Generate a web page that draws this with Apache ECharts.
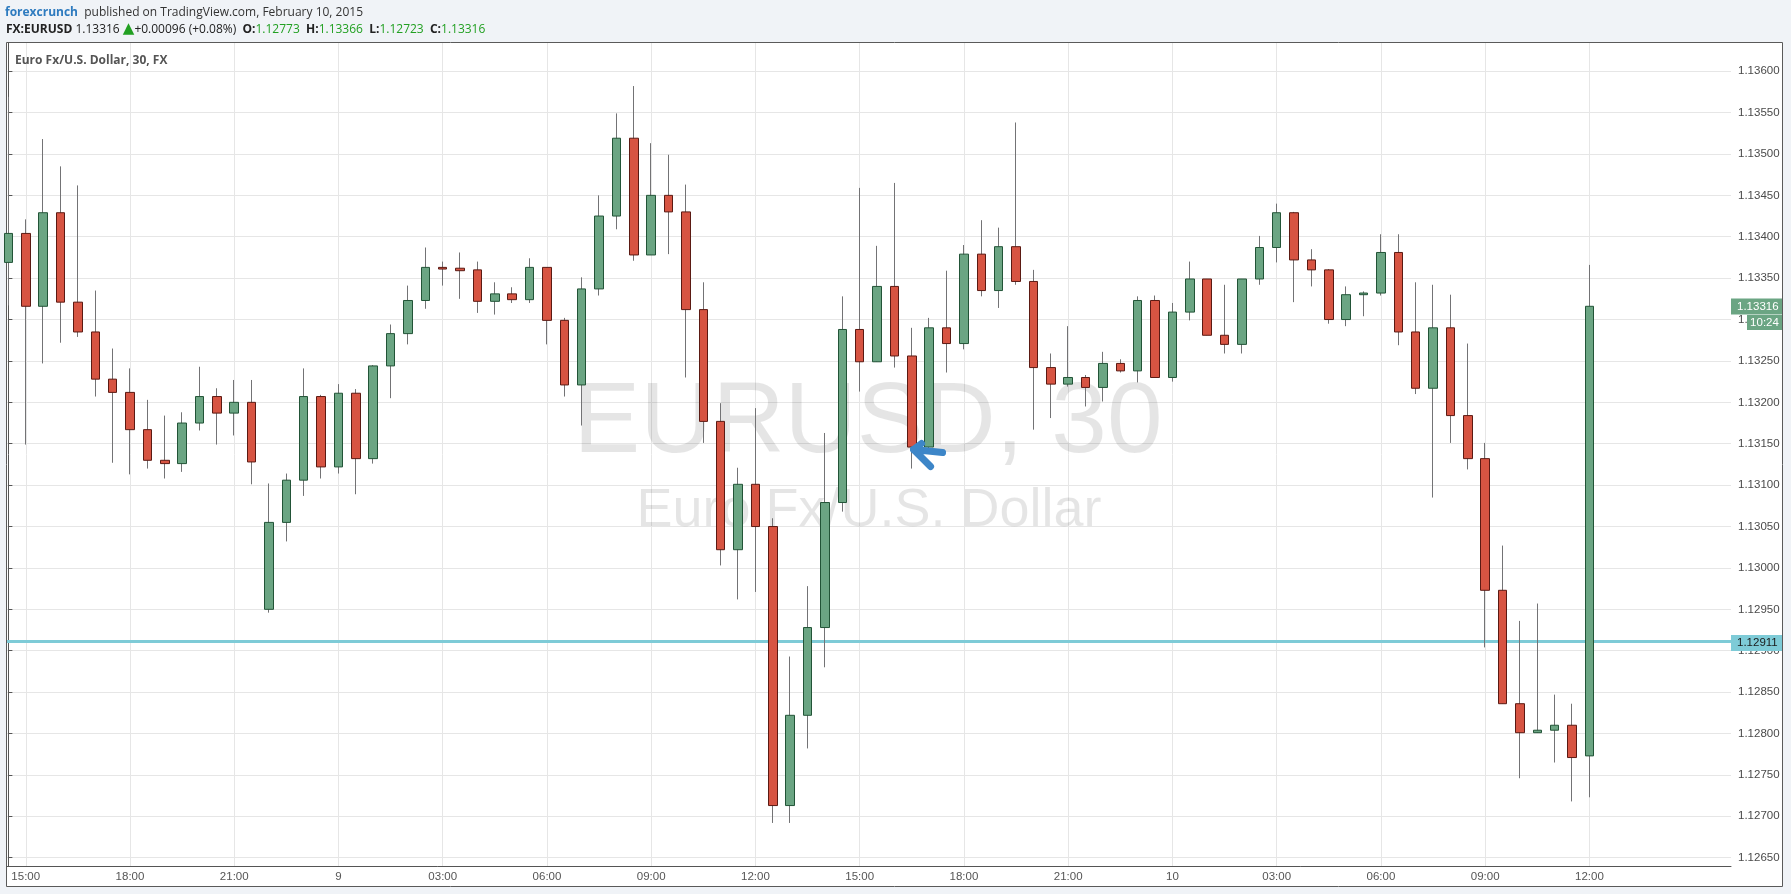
<!DOCTYPE html>
<html>
<head>
<meta charset="utf-8">
<script src="https://cdn.jsdelivr.net/npm/echarts@6/dist/echarts.min.js"></script>
<style>
html,body{margin:0;padding:0;background:#f0f3f7;}
#chart{width:1791px;height:894px;}
</style>
</head>
<body>
<div id="chart"></div>
<script>
// ---- data (30-minute EURUSD candles, index 0 = 14:30) ----
const opens = [
1.13369,1.13404,1.13316,1.13429,1.13321,1.13285,1.13228,1.13212,1.13167,1.13130,
1.13126,1.13175,1.13207,1.13187,1.13200,1.12950,1.13055,1.13106,1.13207,1.13122,
1.13211,1.13132,1.13244,1.13283,1.13323,1.13363,1.13362,1.13360,1.13322,1.13331,
1.13324,1.13363,1.13299,1.13221,1.13337,1.13425,1.13519,1.13378,1.13450,1.13430,
1.13312,1.13177,1.13022,1.13101,1.13050,1.12713,1.12822,1.12928,1.13079,1.13288,
1.13249,1.13340,1.13256,1.13146,1.13290,1.13271,1.13379,1.13335,1.13388,1.13346,
1.13242,1.13222,1.13230,1.13218,1.13247,1.13238,1.13323,1.13230,1.13309,1.13349,
1.13281,1.13270,1.13349,1.13387,1.13429,1.13372,1.13360,1.13300,1.13330,1.13332,
1.13381,1.13285,1.13217,1.13290,1.13184,1.13132,1.12973,1.12836,1.12801,1.12804,
1.12810,1.12773];
const closes = [
1.13404,1.13316,1.13429,1.13321,1.13285,1.13228,1.13212,1.13167,1.13130,1.13126,
1.13175,1.13207,1.13187,1.13200,1.13128,1.13055,1.13106,1.13207,1.13122,1.13211,
1.13132,1.13244,1.13283,1.13323,1.13363,1.13361,1.13359,1.13322,1.13331,1.13324,
1.13363,1.13299,1.13221,1.13337,1.13425,1.13519,1.13378,1.13450,1.13430,1.13312,
1.13177,1.13022,1.13101,1.13050,1.12713,1.12822,1.12928,1.13079,1.13288,1.13249,
1.13340,1.13256,1.13146,1.13290,1.13271,1.13379,1.13335,1.13388,1.13346,1.13242,
1.13222,1.13230,1.13218,1.13247,1.13238,1.13323,1.13230,1.13309,1.13349,1.13281,
1.13270,1.13349,1.13387,1.13429,1.13372,1.13360,1.13300,1.13330,1.13332,1.13381,
1.13285,1.13217,1.13290,1.13184,1.13132,1.12973,1.12836,1.12801,1.12804,1.12810,
1.12771,1.13316];
const lows = [
1.13317,1.13149,1.13247,1.13272,1.13279,1.13207,1.13127,1.13113,1.13120,1.13108,
1.13116,1.13166,1.13149,1.13160,1.13101,1.12946,1.13032,1.13087,1.13108,1.13114,
1.13089,1.13126,1.13205,1.13270,1.13313,1.13341,1.13325,1.13308,1.13306,1.13320,
1.13320,1.13270,1.13207,1.13172,1.13329,1.13409,1.13371,1.13378,1.13379,1.13230,
1.13151,1.13003,1.12962,1.12971,1.12692,1.12692,1.12782,1.12880,1.13068,1.13213,
1.13249,1.13242,1.13120,1.13138,1.13236,1.13264,1.13328,1.13314,1.13342,1.13167,
1.13181,1.13219,1.13195,1.13201,1.13236,1.13224,1.13230,1.13225,1.13299,1.13281,
1.13259,1.13259,1.13342,1.13369,1.13321,1.13340,1.13295,1.13292,1.13304,1.13329,
1.13269,1.13210,1.13085,1.13151,1.13119,1.12904,1.12836,1.12746,1.12801,1.12765,
1.12718,1.12723];
const highs = [
1.13569,1.13421,1.13518,1.13485,1.13462,1.13335,1.13265,1.13241,1.13203,1.13184,
1.13188,1.13243,1.13217,1.13227,1.13227,1.13102,1.13114,1.13241,1.13209,1.13222,
1.13216,1.13245,1.13294,1.13341,1.13387,1.13370,1.13381,1.13370,1.13345,1.13339,
1.13374,1.13363,1.13302,1.13351,1.13450,1.13549,1.13582,1.13513,1.13499,1.13463,
1.13345,1.13199,1.13121,1.13193,1.13060,1.12893,1.12978,1.13163,1.13328,1.13459,
1.13389,1.13465,1.13290,1.13302,1.13359,1.13390,1.13420,1.13411,1.13538,1.13360,
1.13259,1.13292,1.13233,1.13261,1.13252,1.13328,1.13329,1.13320,1.13370,1.13349,
1.13342,1.13349,1.13401,1.13440,1.13430,1.13385,1.13361,1.13340,1.13334,1.13403,
1.13403,1.13345,1.13342,1.13330,1.13271,1.13151,1.13027,1.12936,1.12957,1.12847,
1.12836,1.13366];
const timeTickIdx = [1,7,13,19,25,31,37,43,49,55,61,67,73,79,85,91];
const timeLabels = ['15:00','18:00','21:00','9','03:00','06:00','09:00','12:00',
                    '15:00','18:00','21:00','10','03:00','06:00','09:00','12:00'];
const priceTicks = [1.12650,1.12700,1.12750,1.12800,1.12850,1.12900,1.12950,1.13000,
                    1.13050,1.13100,1.13150,1.13200,1.13250,1.13300,1.13350,1.13400,
                    1.13450,1.13500,1.13550,1.13600];
const refLevel = 1.12911;
const countdown = '10:24';
const changeText = '+0.00096 (+0.08%)';
const arrowTarget = [52.1, 1.13143];

// ---- build ----
const last = opens.length - 1;
const wickData = opens.map((o, i) => [i, o, closes[i], lows[i], highs[i]]);
const bodyData = opens.map((o, i) => [i, o, closes[i], Math.min(o, closes[i]), Math.max(o, closes[i])]);
const fmt = v => v.toFixed(5);
const axisFont = 'Liberation Sans, Arial, sans-serif';

const chart = echarts.init(document.getElementById('chart'), null, {renderer: 'canvas'});
chart.setOption({
  animation: false,
  backgroundColor: 'transparent',
  grid: {left: 7, right: 60, top: 43, bottom: 28, outerBoundsMode: 'none'},
  xAxis: {
    type: 'value', min: -0.08, max: 99.15,
    axisLine: {show: true, onZero: false, lineStyle: {color: '#555', width: 1}},
    axisTick: {show: false, customValues: timeTickIdx},
    axisLabel: {
      customValues: timeTickIdx,
      formatter: v => timeLabels[timeTickIdx.indexOf(Math.round(v))],
      color: '#555', fontSize: 11.5, fontFamily: axisFont, margin: 5
    },
    splitLine: {show: true, lineStyle: {color: '#e6e6e6', width: 1}}
  },
  yAxis: {
    type: 'value', position: 'right', min: 1.1264, max: 1.13634,
    axisLine: {show: true, lineStyle: {color: '#555', width: 1}},
    axisTick: {show: true, inside: false, length: 4, customValues: priceTicks, lineStyle: {color: '#555'}},
    axisLabel: {customValues: priceTicks, formatter: fmt, color: '#4a4a4a', fontSize: 11.5, fontFamily: axisFont, margin: 7},
    splitLine: {show: true, lineStyle: {color: '#e6e6e6', width: 1}}
  },
  series: [
    {
      type: 'candlestick', name: 'wick', z: 2, barWidth: 0.5,
      encode: {x: 0, y: [1, 2, 3, 4]},
      data: wickData,
      itemStyle: {color: '#737375', color0: '#737375', borderColor: '#737375', borderColor0: '#737375', borderColorDoji: '#737375', borderWidth: 1},
      markLine: {
        silent: true, symbol: 'none', animation: false, precision: 5, z: 1,
        label: {show: false},
        lineStyle: {color: '#7ecbd7', width: 3, type: 'solid'},
        data: [{yAxis: refLevel}]
      }
    },
    {
      type: 'candlestick', name: 'body', z: 3, barWidth: 9,
      encode: {x: 0, y: [1, 2, 3, 4]},
      data: bodyData,
      itemStyle: {color: '#6ba583', color0: '#d75442', borderColor: '#225437', borderColor0: '#5b1a13', borderWidth: 1}
    }
  ]
});

const yClose = chart.convertToPixel({yAxisIndex: 0}, closes[last]);
const yRef = chart.convertToPixel({yAxisIndex: 0}, refLevel);
const tip = chart.convertToPixel({xAxisIndex: 0, yAxisIndex: 0}, arrowTarget);
const hdrFont = 'Open Sans, Noto Sans, sans-serif';

chart.setOption({
  graphic: [
    {type: 'rect', z: -10, shape: {x: 6.5, y: 42.5, width: 1776, height: 844},
     style: {fill: '#ffffff', stroke: '#5a5a5a', lineWidth: 1}, silent: true},
    {type: 'text', z: 1, style: {text: 'EURUSD, 30', x: 868, y: 424, align: 'center', verticalAlign: 'middle',
      fontSize: 100, fontFamily: 'Liberation Sans, Arial, sans-serif', fill: 'rgba(0,0,0,0.1)'}},
    {type: 'text', z: 1, style: {text: 'Euro Fx/U.S. Dollar', x: 869, y: 511, align: 'center', verticalAlign: 'middle',
      fontSize: 54, fontFamily: 'Liberation Sans, Arial, sans-serif', fill: 'rgba(0,0,0,0.1)'}},
    {type: 'text', z: 10, style: {text: 'Euro Fx/U.S. Dollar, 30, FX', x: 15, y: 61, verticalAlign: 'middle',
      fontSize: 12, fontWeight: 'bold', fontFamily: hdrFont, fill: '#555'}},
    {type: 'text', z: 10, style: {
      text: '{b|forexcrunch}  {n|published on TradingView.com, February 10, 2015}',
      x: 5, y: 12.5, verticalAlign: 'middle', fontSize: 12, fontFamily: hdrFont,
      rich: {b: {fontWeight: 'bold', fill: '#2e7bbf', fontSize: 12, fontFamily: hdrFont},
             n: {fill: '#333', fontSize: 12, fontFamily: hdrFont}}}},
    {type: 'text', z: 10, style: {
      text: '{b|FX:EURUSD} {n|' + fmt(closes[last]) + '} {t|▲}{n|' + changeText + '}  {b|O:}{g|' + fmt(opens[last]) +
            '}  {b|H:}{g|' + fmt(highs[last]) + '}  {b|L:}{g|' + fmt(lows[last]) + '}  {b|C:}{g|' + fmt(closes[last]) + '}',
      x: 6, y: 29.5, verticalAlign: 'middle', fontSize: 12, fontFamily: hdrFont,
      rich: {b: {fontWeight: 'bold', fill: '#222', fontSize: 12, fontFamily: hdrFont},
             n: {fill: '#222', fontSize: 12, fontFamily: hdrFont},
             g: {fill: '#22a022', fontSize: 12, fontFamily: hdrFont},
             t: {fill: '#22a022', fontSize: 15, fontFamily: 'DejaVu Sans, sans-serif'}}}},
    // price tags
    {type: 'rect', z: 10, shape: {x: 1731, y: Math.round(yClose) - 7.5, width: 51, height: 16}, style: {fill: '#6ba583'}},
    {type: 'text', z: 11, style: {text: fmt(closes[last]), x: 1737, y: Math.round(yClose) + 0.5, verticalAlign: 'middle',
      fontSize: 11.5, fontFamily: axisFont, fill: '#ffffff'}},
    {type: 'rect', z: 10, shape: {x: 1747, y: Math.round(yClose) + 9, width: 35, height: 15}, style: {fill: '#6ba583'}},
    {type: 'text', z: 11, style: {text: countdown, x: 1764.5, y: Math.round(yClose) + 16.5, align: 'center', verticalAlign: 'middle',
      fontSize: 11.5, fontFamily: axisFont, fill: '#ffffff'}},
    {type: 'rect', z: 10, shape: {x: 1731, y: Math.round(yRef) - 7, width: 51, height: 16}, style: {fill: '#7ecbd7'}},
    {type: 'text', z: 11, style: {text: fmt(refLevel), x: 1737, y: Math.round(yRef) + 1, verticalAlign: 'middle',
      fontSize: 11.5, fontFamily: axisFont, fill: '#1a1a1a'}},
    // arrow annotation
    {type: 'polyline', z: 12, shape: {points: [[tip[0] + 29, tip[1] + 3], [tip[0], tip[1]], [tip[0] + 17, tip[1] + 17]]},
     style: {stroke: '#3d86c8', lineWidth: 7, lineCap: 'round', lineJoin: 'round', fill: null}},
    {type: 'polyline', z: 12, shape: {points: [[tip[0], tip[1]], [tip[0] + 8, tip[1] - 6]]},
     style: {stroke: '#3d86c8', lineWidth: 7, lineCap: 'round', fill: null}}
  ]
});
</script>
</body>
</html>
